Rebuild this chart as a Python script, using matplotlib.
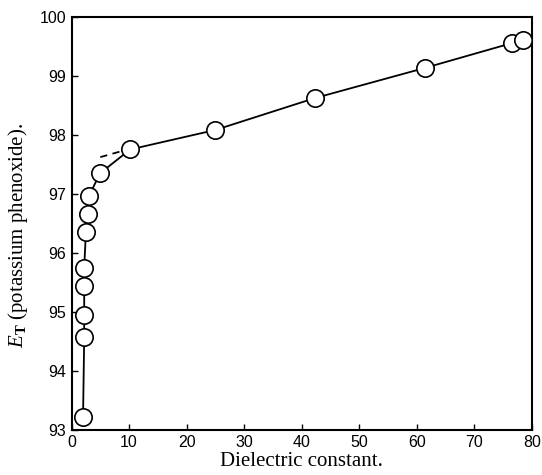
import matplotlib
matplotlib.use('Agg')
import matplotlib.pyplot as plt

plt.rcParams['mathtext.fontset'] = 'custom'
plt.rcParams['mathtext.rm'] = 'Liberation Serif'
plt.rcParams['mathtext.it'] = 'Liberation Serif:italic'
plt.rcParams['mathtext.bf'] = 'Liberation Serif:bold'

# constante dieletrica e valores de E_T (fenoxido de potassio)
dielectric = [2.0, 2.2, 2.2, 2.2, 2.2, 2.5, 2.8, 3.0, 5.0, 10.2, 25.0, 42.3, 61.4, 76.5, 78.5]
e_t = [93.22, 94.57, 94.94, 95.43, 95.75, 96.35, 96.65, 96.96, 97.35, 97.75, 98.08, 98.62, 99.13, 99.55, 99.61]

# extrapolacao tracejada
dash_x = [5.0, 9.0]
dash_y = [97.62, 97.73]

fig = plt.figure(figsize=(5.42, 4.75), dpi=100)
ax = fig.add_axes([0.132, 0.095, 0.849, 0.870])

ax.plot(dielectric, e_t, '-', color='black', lw=1.3, zorder=2)
ax.plot(dash_x, dash_y, '--', color='black', lw=1.3, dashes=(4, 3), zorder=2)
ax.plot(dielectric, e_t, 'o', ms=12.5, mfc='white', mec='black', mew=1.2,
        ls='none', zorder=3)

ax.set_xlim(0, 80)
ax.set_ylim(93, 100)
ax.set_xticks(range(0, 81, 10))
ax.set_yticks(range(93, 101))

for s in ax.spines.values():
    s.set_linewidth(1.5)

ax.tick_params(direction='in', length=4, width=1, labelsize=11.5, pad=4)
for lab in ax.get_xticklabels() + ax.get_yticklabels():
    lab.set_family('Liberation Sans')

ax.set_xlabel('Dielectric constant.', family='Liberation Serif', fontsize=15, labelpad=1)
ax.set_ylabel(r'$E_\mathbf{T}$ (potassium phenoxide).', family='Liberation Serif',
              fontsize=15)
ax.yaxis.set_label_coords(-0.09, 0.47)

fig.savefig('out.png', dpi=100)
